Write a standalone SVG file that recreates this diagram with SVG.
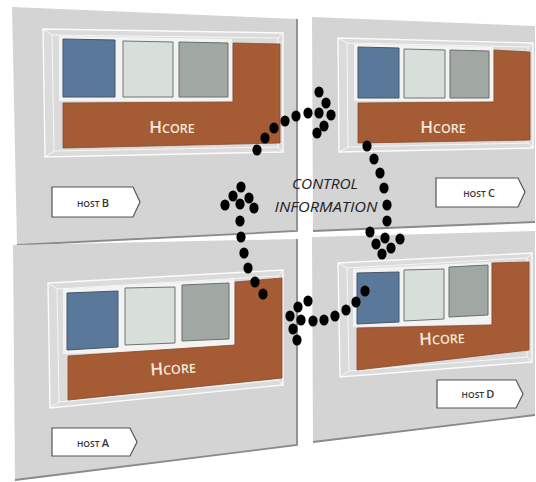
<svg xmlns="http://www.w3.org/2000/svg" width="536" height="482" viewBox="0 0 536 482">
<defs>
<style>
.panel{fill:#d4d4d4;stroke:none}
.edge{fill:none;stroke:#8a8a8a;stroke-width:1.8}
.frame{fill:#ffffff;fill-opacity:0.18;stroke:#ffffff;stroke-width:1.4;stroke-opacity:0.9}
.inner{fill:none;stroke:#ffffff;stroke-width:1;stroke-opacity:0.75}
.diag{stroke:#ffffff;stroke-width:1;stroke-opacity:0.75}
.back{fill:#f3f3f3}
.blue{fill:#5a7899;stroke:#43576d;stroke-width:1}
.light{fill:#d8ded9;stroke:#6f7470;stroke-width:1}
.gray{fill:#a1a8a4;stroke:#6a6f6c;stroke-width:1}
.brown{fill:#a55b34;stroke:#8a4a2a;stroke-width:0.8}
.hcore{font-family:"Open Sans","Noto Sans",sans-serif;fill:#f6e8da;text-anchor:middle;font-weight:600}
.tag{fill:#ffffff;stroke:#555555;stroke-width:1.2}
.host{font-family:"Open Sans","Noto Sans",sans-serif;fill:#333333;text-anchor:middle;font-weight:600}
.ctl{font-family:"Open Sans","Noto Sans",sans-serif;font-style:italic;fill:#222222;font-size:14px;text-anchor:middle}
.dot{fill:#000000}
</style>
</defs>
<rect width="536" height="482" fill="#ffffff"/>

<g id="hostB">
<polygon class="panel" points="12,7 297,19 297,231 17,245"/>
<polyline class="edge" points="297,19 297,231 17,245"/>
<polygon class="frame" points="43,29 283,33 283,152 45,157"/>
<polygon class="inner" points="52,35 278,38 278,147 54,151"/>
<line class="diag" x1="43" y1="29" x2="52" y2="35"/><line class="diag" x1="283" y1="33" x2="278" y2="38"/>
<line class="diag" x1="283" y1="152" x2="278" y2="147"/><line class="diag" x1="45" y1="157" x2="54" y2="151"/>
<polygon class="back" points="59,36 232,39 232,101 59,101"/>
<polygon class="blue" points="63,39 115,40 115,97 63,97"/>
<polygon class="light" points="123,41 173,42 173,97 123,97"/>
<polygon class="gray" points="179,42 228,43 228,97 179,97"/>
<polygon class="brown" points="233,43 280,44 280,143 63,148 63,103 233,102"/>
<text class="hcore" x="172" y="133"><tspan font-size="17">H</tspan><tspan font-size="12.5">CORE</tspan></text>
<polygon class="tag" points="52,187 133,187 140,202 133,217 52,217"/>
<text class="host" x="93" y="207"><tspan font-size="8.5">HOST </tspan><tspan font-size="11">B</tspan></text>
</g>

<g id="hostC">
<polygon class="panel" points="312,17 535,26 535,222 313,231"/>
<polyline class="edge" points="535,222 313,231"/>
<polygon class="frame" points="338,38 533,43 533,148 339,152"/>
<polygon class="inner" points="347,43 528,47 528,143 348,147"/>
<line class="diag" x1="338" y1="38" x2="347" y2="43"/><line class="diag" x1="533" y1="43" x2="528" y2="47"/>
<line class="diag" x1="533" y1="148" x2="528" y2="143"/><line class="diag" x1="339" y1="152" x2="348" y2="147"/>
<polygon class="back" points="354,44 493,47 493,101 354,101"/>
<polygon class="blue" points="358,47 399,48 399,98 358,98"/>
<polygon class="light" points="404,49 445,50 445,98 404,98"/>
<polygon class="gray" points="450,50 489,51 489,98 450,98"/>
<polygon class="brown" points="494,50 530,52 530,140 358,143 358,103 494,102"/>
<text class="hcore" x="443" y="133"><tspan font-size="17">H</tspan><tspan font-size="12.5">CORE</tspan></text>
<polygon class="tag" points="436,178 518,178 525,192 518,207 436,207"/>
<text class="host" x="479" y="197"><tspan font-size="8.5">HOST </tspan><tspan font-size="11">C</tspan></text>
</g>

<g id="hostA">
<polygon class="panel" points="13,245 297,239 297,445 15,480"/>
<polyline class="edge" points="297,239 297,445 15,480"/>
<polygon class="frame" points="48,283 283,270 283,385 50,408"/>
<polygon class="inner" points="57,289 278,276 278,380 59,402"/>
<line class="diag" x1="48" y1="283" x2="57" y2="289"/><line class="diag" x1="283" y1="270" x2="278" y2="276"/>
<line class="diag" x1="283" y1="385" x2="278" y2="380"/><line class="diag" x1="50" y1="408" x2="59" y2="402"/>
<polygon class="back" points="63,289 234,279 234,348 63,354"/>
<polygon class="blue" points="67,293 118,291 118,347 67,350"/>
<polygon class="light" points="125,288 175,287 175,343 125,345"/>
<polygon class="gray" points="182,285 229,283 229,339 182,341"/>
<polygon class="brown" points="235,282 282,278 282,378 68,400 68,356 235,345"/>
<text class="hcore" x="173" y="374" transform="rotate(-4 173 368)"><tspan font-size="17">H</tspan><tspan font-size="12.5">CORE</tspan></text>
<polygon class="tag" points="52,428 130,428 137,442 130,456 52,456"/>
<text class="host" x="93" y="447"><tspan font-size="8.5">HOST </tspan><tspan font-size="11">A</tspan></text>
</g>

<g id="hostD">
<polygon class="panel" points="312,237 535,231 535,415 313,442"/>
<polyline class="edge" points="535,415 313,442"/>
<polygon class="frame" points="338,263 532,253 532,362 340,377"/>
<polygon class="inner" points="347,268 527,258 527,357 349,371"/>
<line class="diag" x1="338" y1="263" x2="347" y2="268"/><line class="diag" x1="532" y1="253" x2="527" y2="258"/>
<line class="diag" x1="532" y1="362" x2="527" y2="357"/><line class="diag" x1="340" y1="377" x2="349" y2="371"/>
<polygon class="back" points="353,269 491,262 491,324 353,327"/>
<polygon class="blue" points="357,273 399,272 399,322 357,324"/>
<polygon class="light" points="404,270 444,269 444,319 404,321"/>
<polygon class="gray" points="449,267 488,265 488,315 449,317"/>
<polygon class="brown" points="492,263 529,262 529,350 357,370 357,328 492,325"/>
<text class="hcore" x="442" y="344" transform="rotate(-3 442 338)"><tspan font-size="17">H</tspan><tspan font-size="12.5">CORE</tspan></text>
<polygon class="tag" points="437,380 516,380 523,394 516,408 437,408"/>
<text class="host" x="478" y="398"><tspan font-size="8.5">HOST </tspan><tspan font-size="11">D</tspan></text>
</g>

<g id="label">
<text class="ctl" x="325" y="189" textLength="66" lengthAdjust="spacingAndGlyphs">CONTROL</text>
<text class="ctl" x="326" y="212" textLength="103" lengthAdjust="spacingAndGlyphs">INFORMATION</text>
</g>

<g id="connectors">
<g id="b-to-c">
<ellipse class="dot" cx="257" cy="150" rx="4.6" ry="5.6"/><ellipse class="dot" cx="265" cy="138" rx="4.6" ry="5.6"/>
<ellipse class="dot" cx="274" cy="128" rx="4.6" ry="5.6"/><ellipse class="dot" cx="285" cy="121" rx="4.6" ry="5.6"/>
<ellipse class="dot" cx="296" cy="116" rx="4.6" ry="5.6"/><ellipse class="dot" cx="308" cy="113" rx="4.6" ry="5.6"/>
<ellipse class="dot" cx="319" cy="113" rx="4.6" ry="5.6"/>
<ellipse class="dot" cx="319" cy="92" rx="4.6" ry="5.6"/><ellipse class="dot" cx="326" cy="103" rx="4.6" ry="5.6"/>
<ellipse class="dot" cx="331" cy="115" rx="4.6" ry="5.6"/><ellipse class="dot" cx="324" cy="126" rx="4.6" ry="5.6"/>
<ellipse class="dot" cx="317" cy="133" rx="4.6" ry="5.6"/>
</g>
<g id="c-to-d">
<ellipse class="dot" cx="367" cy="146" rx="4.6" ry="5.6"/><ellipse class="dot" cx="374" cy="159" rx="4.6" ry="5.6"/>
<ellipse class="dot" cx="380" cy="173" rx="4.6" ry="5.6"/><ellipse class="dot" cx="384" cy="188" rx="4.6" ry="5.6"/>
<ellipse class="dot" cx="387" cy="205" rx="4.6" ry="5.6"/><ellipse class="dot" cx="387" cy="221" rx="4.6" ry="5.6"/>
<ellipse class="dot" cx="385" cy="238" rx="4.6" ry="5.6"/>
<ellipse class="dot" cx="370" cy="232" rx="4.6" ry="5.6"/><ellipse class="dot" cx="376" cy="244" rx="4.6" ry="5.6"/>
<ellipse class="dot" cx="382" cy="254" rx="4.6" ry="5.6"/><ellipse class="dot" cx="391" cy="248" rx="4.6" ry="5.6"/>
<ellipse class="dot" cx="400" cy="239" rx="4.6" ry="5.6"/>
</g>
<g id="d-to-a">
<ellipse class="dot" cx="365" cy="291" rx="4.6" ry="5.6"/><ellipse class="dot" cx="356" cy="302" rx="4.6" ry="5.6"/>
<ellipse class="dot" cx="346" cy="310" rx="4.6" ry="5.6"/><ellipse class="dot" cx="335" cy="316" rx="4.6" ry="5.6"/>
<ellipse class="dot" cx="324" cy="320" rx="4.6" ry="5.6"/><ellipse class="dot" cx="313" cy="321" rx="4.6" ry="5.6"/>
<ellipse class="dot" cx="301" cy="320" rx="4.6" ry="5.6"/>
<ellipse class="dot" cx="308" cy="301" rx="4.6" ry="5.6"/><ellipse class="dot" cx="298" cy="307" rx="4.6" ry="5.6"/>
<ellipse class="dot" cx="290" cy="316" rx="4.6" ry="5.6"/><ellipse class="dot" cx="293" cy="329" rx="4.6" ry="5.6"/>
<ellipse class="dot" cx="297" cy="340" rx="4.6" ry="5.6"/>
</g>
<g id="a-to-b">
<ellipse class="dot" cx="263" cy="294" rx="4.6" ry="5.6"/><ellipse class="dot" cx="255" cy="282" rx="4.6" ry="5.6"/>
<ellipse class="dot" cx="248" cy="268" rx="4.6" ry="5.6"/><ellipse class="dot" cx="244" cy="253" rx="4.6" ry="5.6"/>
<ellipse class="dot" cx="241" cy="237" rx="4.6" ry="5.6"/><ellipse class="dot" cx="240" cy="221" rx="4.6" ry="5.6"/>
<ellipse class="dot" cx="240" cy="204" rx="4.6" ry="5.6"/>
<ellipse class="dot" cx="241" cy="187" rx="4.6" ry="5.6"/><ellipse class="dot" cx="233" cy="196" rx="4.6" ry="5.6"/>
<ellipse class="dot" cx="225" cy="205" rx="4.6" ry="5.6"/><ellipse class="dot" cx="249" cy="198" rx="4.6" ry="5.6"/>
<ellipse class="dot" cx="254" cy="208" rx="4.6" ry="5.6"/>
</g>
</g>
</svg>
